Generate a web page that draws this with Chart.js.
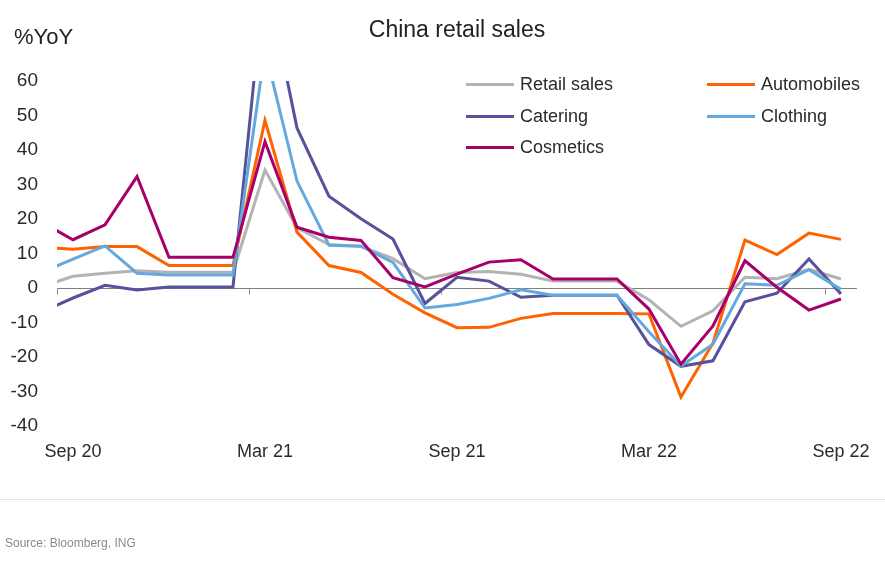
<!DOCTYPE html>
<html><head><meta charset="utf-8">
<script src="https://cdn.jsdelivr.net/npm/chart.js@4/dist/chart.umd.min.js"></script>
<style>
html,body{margin:0;padding:0;background:#fff;width:885px;height:574px;overflow:hidden;font-family:"Liberation Sans",Arial,sans-serif;}
#wrap{position:relative;width:885px;height:574px;}
canvas{position:absolute;left:0;top:0;}
.t{position:absolute;white-space:nowrap;color:#222;line-height:1;}
#title{left:0;width:914px;text-align:center;top:18px;font-size:23px;}
#unit{left:14px;top:26px;font-size:22px;}
#rule{position:absolute;left:0;top:499px;width:885px;height:1px;background:#e3e3e3;}
#source{left:5px;top:537px;font-size:12px;color:#8a8a8a;}
.lg{position:absolute;height:20px;line-height:20px;font-size:18px;color:#2a2a2a;white-space:nowrap;}
.lg span.sw{position:absolute;left:0;top:9px;width:48px;height:3px;}
.lg span.tx{position:absolute;left:54px;top:0;}
</style>
</head><body>
<div id="wrap">
<canvas id="c" width="885" height="574"></canvas>
<div class="t" id="title">China retail sales</div>
<div class="t" id="unit">%YoY</div>
<div id="rule"></div>
<div class="t" id="source">Source: Bloomberg, ING</div>
</div>
<script>
const months = ['Aug 20','Sep 20','Oct 20','Nov 20','Dec 20','Jan 21','Feb 21','Mar 21','Apr 21','May 21','Jun 21','Jul 21','Aug 21','Sep 21','Oct 21','Nov 21','Dec 21','Jan 22','Feb 22','Mar 22','Apr 22','May 22','Jun 22','Jul 22','Aug 22','Sep 22'];
const xTickLabels = ['Sep 20','Mar 21','Sep 21','Mar 22','Sep 22'];
const yTicks = [60,50,40,30,20,10,0,-10,-20,-30,-40];

const retailSales = [0.3, 3.4, 4.3, 5.0, 4.6, 4.6, 4.6, 34.2, 17.5, 12.6, 12.1, 8.5, 2.7, 4.5, 4.8, 4.0, 2.0, 2.0, 2.0, -3.4, -11.1, -6.6, 3.1, 2.7, 5.4, 2.6];
const automobiles = [11.8, 11.2, 12.0, 12.0, 6.5, 6.5, 6.5, 48.6, 16.2, 6.5, 4.5, -1.8, -7.2, -11.5, -11.4, -8.8, -7.4, -7.4, -7.4, -7.5, -31.6, -16.0, 13.9, 9.7, 15.9, 14.1];
const catering = [-7.0, -2.9, 0.8, -0.6, 0.3, 0.3, 0.3, 91.6, 46.4, 26.6, 20.1, 14.2, -4.5, 3.1, 2.0, -2.7, -2.1, -2.1, -2.1, -16.4, -22.7, -21.1, -4.0, -1.5, 8.4, -1.7];
const clothing = [4.4, 8.4, 12.2, 4.3, 3.8, 3.8, 3.8, 69.0, 31.0, 12.4, 12.1, 7.4, -5.8, -4.8, -3.0, -0.5, -2.1, -2.1, -2.1, -12.7, -22.6, -16.3, 1.2, 0.8, 5.3, -0.4];
const cosmetics = [19.2, 14.0, 18.3, 32.3, 8.9, 8.9, 8.9, 42.4, 17.6, 14.7, 13.8, 3.0, 0.3, 4.0, 7.5, 8.2, 2.6, 2.6, 2.6, -6.1, -22.1, -11.0, 7.9, 0.2, -6.4, -3.2];

const seriesNames = ['Retail sales','Automobiles','Catering','Clothing','Cosmetics'];
const seriesValues = [retailSales, automobiles, catering, clothing, cosmetics];
const seriesColors = ['#b3b3b3','#ff6200','#56529c','#64a9de','#a7006b'];

const FONT = '"Liberation Sans", Arial, sans-serif';
const tickIndex = xTickLabels.map(l => months.indexOf(l));

const zeroTicks = {
  id:'zeroTicks',
  beforeDatasetsDraw(chart){
    const {ctx, scales:{x,y}} = chart;
    const y0 = Math.round(y.getPixelForValue(0)) + 0.5;
    ctx.save();
    ctx.strokeStyle = '#8c8c8c';
    ctx.lineWidth = 1;
    for (let v = x.min; v < x.max; v += 6) {
      const px = Math.round(x.getPixelForValue(v)) + 0.5;
      ctx.beginPath(); ctx.moveTo(px, y0); ctx.lineTo(px, y0 + 6); ctx.stroke();
    }
    ctx.restore();
  }
};

const chart = new Chart(document.getElementById('c'), {
  type:'line',
  data:{
    datasets: seriesNames.map((name,i)=>({
      label:name,
      data: seriesValues[i].map((v,j)=>({x:j,y:v})),
      borderColor: seriesColors[i],
      backgroundColor: seriesColors[i],
      borderWidth:3,
      pointRadius:0,
      tension:0,
      fill:false,
      clip:0,
      order: seriesNames.length - i,
      borderJoinStyle:'miter'
    }))
  },
  options:{
    responsive:false,
    animation:false,
    layout:{padding:{left:0,right:27,top:81,bottom:0}},
    plugins:{legend:{display:false},title:{display:false},tooltip:{enabled:false}},
    scales:{
      x:{
        type:'linear', min:0.5, max:25.5,
        afterBuildTicks:(s)=>{ s.ticks = tickIndex.map(v=>({value:v})); },
        afterFit:(s)=>{ s.height = 148; },
        ticks:{ callback:(v)=>months[v], font:{family:FONT,size:18}, color:'#2a2a2a', padding:15, maxRotation:0, autoSkip:false },
        grid:{display:false, drawTicks:false},
        border:{display:false}
      },
      y:{
        min:-40, max:60,
        afterBuildTicks:(s)=>{ s.ticks = yTicks.map(v=>({value:v})); },
        afterFit:(s)=>{ s.width = 57; },
        ticks:{ font:{family:FONT,size:19}, color:'#2a2a2a', padding:19 },
        grid:{ drawTicks:false, lineWidth:1, color:(c)=> (c.tick && c.tick.value===0) ? '#808080' : 'rgba(0,0,0,0)' },
        border:{display:false}
      }
    }
  },
  plugins:[zeroTicks]
});

// HTML legend built from the chart datasets
const legendPos = [[466,74],[707,74],[466,106],[707,106],[466,137]];
const wrap = document.getElementById('wrap');
chart.data.datasets.forEach((ds,i)=>{
  const d = document.createElement('div');
  d.className = 'lg';
  d.style.left = legendPos[i][0] + 'px';
  d.style.top = legendPos[i][1] + 'px';
  const sw = document.createElement('span'); sw.className='sw'; sw.style.background = ds.borderColor;
  const tx = document.createElement('span'); tx.className='tx'; tx.textContent = ds.label;
  d.appendChild(sw); d.appendChild(tx);
  wrap.appendChild(d);
});
</script>
</body></html>
